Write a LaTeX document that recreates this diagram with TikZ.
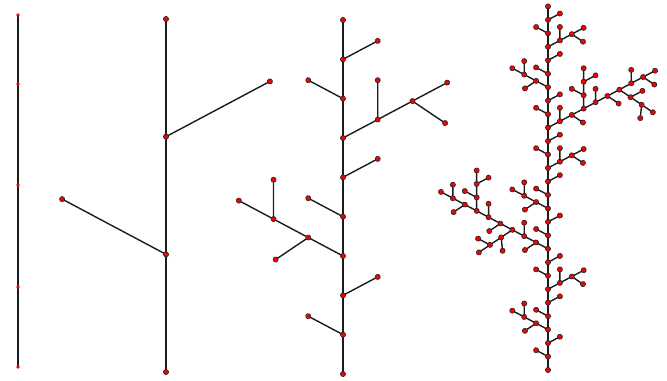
\documentclass[tikz,border=0pt]{standalone}
\usepackage{xcolor}
\usepackage{tikz}
\usetikzlibrary{lindenmayersystems}

\definecolor{budred}{RGB}{228,8,8}
\definecolor{stemgray}{RGB}{28,28,28}

\pgfdeclarelindenmayersystem{plant}{
  \rule{F -> F[+F]F[-F]F}
}
\pgfdeclarelindenmayersystem{plant buds}{
  \symbol{B}{\pgfpathcircle{\pgfpointorigin}{0.78mm}}
  \symbol{G}{\pgflsystemmoveforward\pgfpathcircle{\pgfpointorigin}{0.78mm}}
  \rule{G -> G[+G]G[-G]G}
}

\begin{document}
\begin{tikzpicture}[x=0.3mm,y=-0.3mm,
stem/.style={draw=stemgray,line width=1.2pt,line cap=round},
trunk/.style={draw=stemgray,line width=1.7pt},
bud/.style={draw=stemgray,fill=budred,line width=0.45pt},
seed/.style={circle,fill=budred,inner sep=0pt,minimum size=1.1mm}]
\useasboundingbox (0,0) rectangle (667,380);
% order 0
\coordinate (s0) at (18,367);
\coordinate (s1) at (18,287);
\coordinate (s2) at (18,185);
\coordinate (s3) at (18,84);
\coordinate (s4) at (18,15);
\draw[trunk] (s0)--(s1)--(s2)--(s3);
\draw[stem] (s3)--(s4);
\node[seed] (d0) at (s0) {};
\node[seed] (d1) at (s1) {};
\node[seed] (d2) at (s2) {};
\node[seed] (d3) at (s3) {};
\node[seed] (d4) at (s4) {};
% order 1
\coordinate (base1) at (166,372);
\coordinate (top1) at (166,19);
\draw[trunk] (base1)--(top1);
\begin{scope}[shift={(base1)},rotate=90]
\draw[stem,lindenmayer system={plant,axiom=F,order=1,step=35.3mm,angle=62}] lindenmayer system;
\draw[bud,lindenmayer system={plant buds,axiom=BG,order=1,step=35.3mm,angle=62}] lindenmayer system;
\end{scope}
% order 2
\coordinate (base2) at (343,374);
\coordinate (top2) at (343,20);
\draw[trunk] (base2)--(top2);
\begin{scope}[shift={(base2)},rotate=90]
\draw[stem,lindenmayer system={plant,axiom=F,order=2,step=11.8mm,angle=62}] lindenmayer system;
\draw[bud,lindenmayer system={plant buds,axiom=BG,order=2,step=11.8mm,angle=62}] lindenmayer system;
\end{scope}
% order 3
\coordinate (base3) at (548,370);
\coordinate (top3) at (548,6.3);
\draw[trunk] (base3)--(top3);
\begin{scope}[shift={(base3)},rotate=90]
\draw[stem,lindenmayer system={plant,axiom=F,order=3,step=4.04mm,angle=62}] lindenmayer system;
\draw[bud,lindenmayer system={plant buds,axiom=BG,order=3,step=4.04mm,angle=62}] lindenmayer system;
\end{scope}
\end{tikzpicture}
\end{document}
